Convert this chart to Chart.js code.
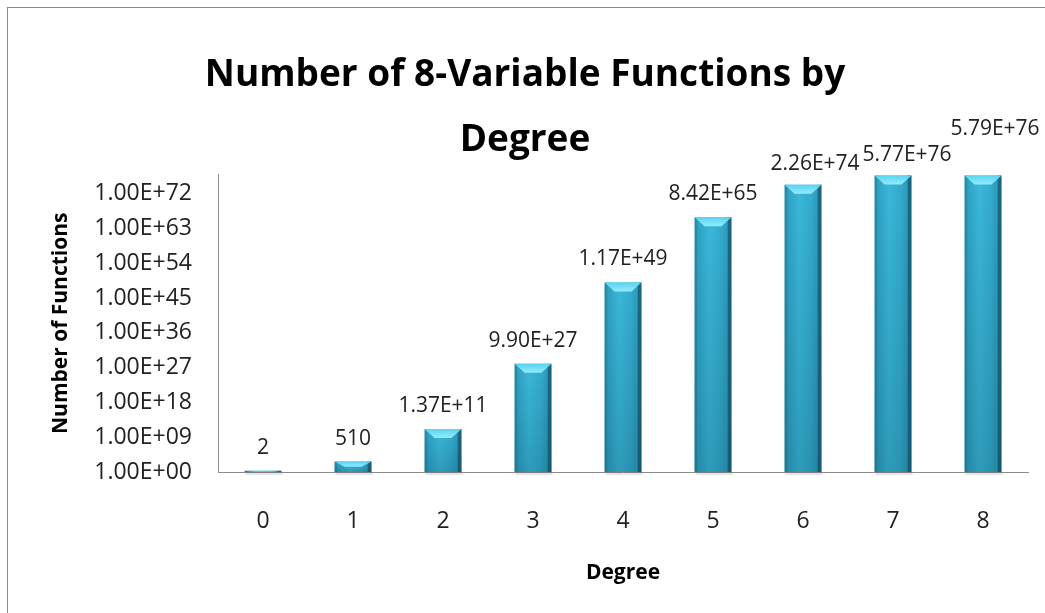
<!DOCTYPE html>
<html><head><meta charset="utf-8">
<script src="https://cdn.jsdelivr.net/npm/chart.js@4"></script>
<style>
html,body{margin:0;padding:0;background:#fff;overflow:hidden}
#wrap{position:relative;width:1045px;height:613px;overflow:hidden}
#frame{position:absolute;left:7px;top:7px;width:2000px;height:1000px;border:1.5px solid #8a8a8a;box-sizing:border-box}
canvas{position:absolute;left:0;top:0}
</style></head><body>
<div id="wrap"><div id="frame"></div><canvas id="c" width="1045" height="613"></canvas></div>
<script>
const categories = ['0','1','2','3','4','5','6','7','8'];
const functionCounts = [2, 510, 1.37e11, 9.90e27, 1.17e49, 8.42e65, 2.26e74, 5.77e76, 5.79e76];
const yTickValues = [1e0, 1e9, 1e18, 1e27, 1e36, 1e45, 1e54, 1e63, 1e72];
const yMin = 1, yMax = 1e77;
const titleLines = ['Number of 8-Variable Functions by', 'Degree'];
const xAxisTitle = 'Degree';
const yAxisTitle = 'Number of Functions';

const FONT = "'Open Sans', Carlito, Lato, sans-serif";

function sci(v) {
  const s = v.toExponential(2).toUpperCase();
  const m = s.match(/^(.*)E([+-])(\d+)$/);
  return m[1] + 'E' + m[2] + (m[3].length < 2 ? '0' + m[3] : m[3]);
}
function labelText(v) { return v < 1000 ? String(v) : sci(v); }

// label nudges (px, [dx, extra lift]) so the top labels don't collide, like the original
const labelNudge = {6: [12, -2], 7: [14, -3], 8: [12, 23]};

const bevelPlugin = {
  id: 'bevel',
  afterDatasetsDraw(chart) {
    const ctx = chart.ctx;
    const meta = chart.getDatasetMeta(0);
    ctx.save();
    meta.data.forEach((bar, i) => {
      const w = bar.width, x0 = bar.x - w / 2, x1 = bar.x + w / 2;
      const top = bar.y, bot = bar.base;
      const h = bot - top;
      ctx.fillStyle = 'rgba(0,0,0,0.10)';
      ctx.fillRect(x0 + 1, bot, w, 3);
      if (!(h >= 1)) {
        ctx.fillStyle = '#8fd3e6';
        ctx.fillRect(x0, bot - 2, w, 2);
        return;
      }
      const ew = Math.min(4, w * 0.1);
      ctx.fillStyle = 'rgba(10,55,75,0.5)';
      ctx.fillRect(x1 - ew, top, ew, h);
      ctx.fillStyle = 'rgba(10,60,80,0.18)';
      ctx.fillRect(x0, top, ew * 0.7, h);
      const g = ctx.createLinearGradient(0, top, 0, bot);
      g.addColorStop(0, 'rgba(0,40,60,0)');
      g.addColorStop(1, 'rgba(0,40,60,0.2)');
      ctx.fillStyle = g;
      ctx.fillRect(x0, top, w, h);
      const bh = Math.min(9, h * 0.5), inset = Math.min(10, w * 0.27);
      ctx.beginPath();
      ctx.moveTo(x0, top); ctx.lineTo(x1, top);
      ctx.lineTo(x1 - inset, top + bh); ctx.lineTo(x0 + inset, top + bh);
      ctx.closePath();
      const gb = ctx.createLinearGradient(0, top, 0, top + bh);
      gb.addColorStop(0, '#58d3f1');
      gb.addColorStop(1, '#93ecfc');
      ctx.fillStyle = gb;
      ctx.fill();
    });
    ctx.fillStyle = '#222';
    ctx.font = "21px " + FONT;
    ctx.textAlign = 'center';
    ctx.textBaseline = 'alphabetic';
    meta.data.forEach((bar, i) => {
      const n = labelNudge[i] || [0, 0];
      ctx.fillText(labelText(functionCounts[i]), bar.x + n[0], bar.y - 17 - n[1]);
    });
    ctx.restore();
  }
};

new Chart(document.getElementById('c'), {
  type: 'bar',
  data: {
    labels: categories,
    datasets: [{
      data: functionCounts,
      backgroundColor(context) {
        const chart = context.chart;
        const xs = chart.scales.x;
        const cx = xs ? xs.getPixelForValue(context.dataIndex) : NaN;
        if (!isFinite(cx)) return '#35afd1';
        const half = 19;
        const g = chart.ctx.createLinearGradient(cx - half, 0, cx + half, 0);
        g.addColorStop(0, '#2b9bbb');
        g.addColorStop(0.4, '#3ab8da');
        g.addColorStop(0.7, '#34acce');
        g.addColorStop(1, '#2890ae');
        return g;
      },
      borderWidth: 0,
      categoryPercentage: 1,
      barPercentage: 0.41
    }]
  },
  options: {
    responsive: false,
    animation: false,
    devicePixelRatio: 1,
    layout: { padding: { left: 22, right: 17, top: 0, bottom: 0 } },
    plugins: {
      legend: { display: false },
      tooltip: { enabled: false },
      title: {
        display: true,
        text: titleLines,
        color: '#000',
        font: { family: FONT, size: 37, weight: 'bold', lineHeight: 1.75 },
        padding: { top: 43, bottom: 2 }
      }
    },
    scales: {
      x: {
        grid: { display: false },
        border: { display: true, color: '#8c8c8c', width: 1 },
        ticks: { color: '#222', font: { family: FONT, size: 23 }, padding: 28 },
        title: { display: true, text: xAxisTitle, color: '#000', font: { family: FONT, size: 21, weight: 'bold' }, padding: { top: 0, bottom: 27 } },
        afterFit(s) { s.height = 141; }
      },
      y: {
        type: 'logarithmic',
        min: yMin, max: yMax,
        grid: { display: false },
        border: { display: true, color: '#8c8c8c', width: 1 },
        afterBuildTicks(s) { s.ticks = yTickValues.map(v => ({ value: v })); },
        ticks: { color: '#222', font: { family: FONT, size: 23 }, padding: 18, callback: v => sci(v) },
        title: { display: true, text: yAxisTitle, color: '#000', font: { family: FONT, size: 21, weight: 'bold' }, padding: { top: 26, bottom: 0 } },
        afterFit(s) { s.width = 196; }
      }
    }
  },
  plugins: [bevelPlugin]
});
</script>
</body></html>
